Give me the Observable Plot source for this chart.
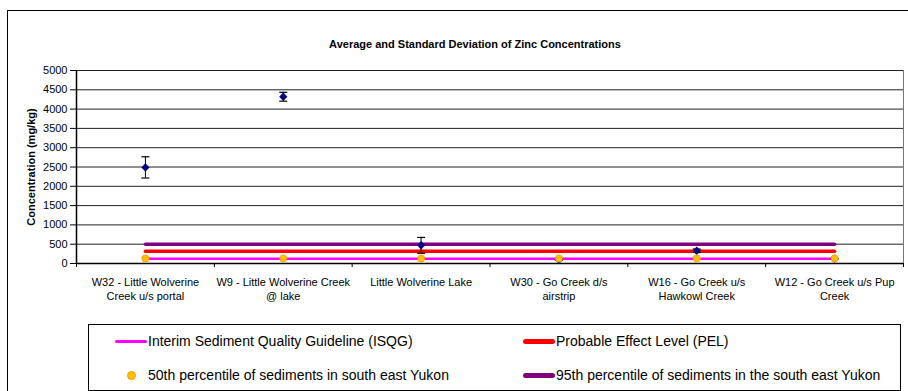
<!DOCTYPE html>
<html>
<head>
<meta charset="utf-8">
<script src="https://cdn.jsdelivr.net/npm/d3@7"></script>
<script src="https://cdn.jsdelivr.net/npm/@observablehq/plot@0.6"></script>
<style>
  html, body { margin: 0; padding: 0; background: #fff; width: 908px; height: 391px; overflow: hidden; font-family: "Liberation Sans", Arial, sans-serif; }
  #outer { position: absolute; left: 7px; top: 10px; width: 920px; height: 420px; border: 1px solid #000; box-sizing: border-box; }
  #title { position: absolute; top: 38px; left: 475px; transform: translateX(-50%); font-weight: bold; font-size: 11px; line-height: 13px; white-space: nowrap; }
  #chart { position: absolute; left: 0; top: 0; }
  #legend { position: absolute; left: 88px; top: 324px; width: 813px; height: 67px; border: 1px solid #000; box-sizing: border-box; }
  .lg { position: absolute; font-size: 14px; line-height: 16px; white-space: nowrap; }
  .sw { position: absolute; }
</style>
</head>
<body>
<div id="outer"></div>
<div id="title"></div>
<div id="chart"></div>
<div id="legend"></div>
<script>
// ---- data ----
const sites = [
  "W32 - Little Wolverine\nCreek u/s portal",
  "W9 - Little Wolverine Creek\n@ lake",
  "Little Wolverine Lake",
  "W30 - Go Creek d/s\nairstrip",
  "W16 - Go Creek u/s\nHawkowl Creek",
  "W12 - Go Creek u/s Pup\nCreek"
];
const meanZn = [2490, 4320, 470, 100, 330, 125];
const sdZn = [275, 115, 205, 15, 45, 10];
const isqg = 123;
const pel = 315;
const p95 = 500;
const p50 = 130;
const yTicks = [0, 500, 1000, 1500, 2000, 2500, 3000, 3500, 4000, 4500, 5000];
const titleText = "Average and Standard Deviation of Zinc Concentrations";
const yLabel = "Concentration (mg/kg)";
const legendLabels = [
  "Interim Sediment Quality Guideline (ISQG)",
  "Probable Effect Level (PEL)",
  "50th percentile of sediments in south east Yukon",
  "95th percentile of sediments in the south east Yukon"
];
const colors = { isqg: "#FF00FF", pel: "#FF0000", p95: "#800080", p50: "#FFC000", p50s: "#FF9900", mean: "#000080" };

// ---- table ----
const rows = sites.map((s, i) => ({ pos: i + 1, site: s, mean: meanZn[i], lo: meanZn[i] - sdZn[i], hi: meanZn[i] + sdZn[i] }));
const boundaries = d3.range(sites.length + 1).map(i => i + 0.5);

const cap = { draw(ctx, size) { const r = Math.sqrt(size / Math.PI); ctx.moveTo(-r, 0); ctx.lineTo(r, 0); } };
const rhombus = { draw(ctx, size) { const r = Math.sqrt(size / Math.PI); const w = r * 0.95; ctx.moveTo(0, -r); ctx.lineTo(w, 0); ctx.lineTo(0, r); ctx.lineTo(-w, 0); ctx.closePath(); } };

document.getElementById("title").textContent = titleText;

const chart = Plot.plot({
  width: 908,
  height: 310,
  marginTop: 70,
  marginBottom: 47,
  marginLeft: 76,
  marginRight: 5,
  style: { fontFamily: "'Liberation Sans', Arial, sans-serif", fontSize: "11px", background: "transparent", color: "#000" },
  x: { type: "linear", domain: [0.5, sites.length + 0.5] },
  y: { domain: [0, 5000] },
  marks: [
    Plot.ruleY(yTicks.slice(1), { stroke: "#222", strokeWidth: 1 }),
    Plot.ruleX([sites.length + 0.5], { stroke: "#777", strokeWidth: 1 }),
    Plot.axisY({ ticks: yTicks, tickSize: 6, tickPadding: 3, tickFormat: d => String(d), label: null, fontSize: 11 }),
    Plot.axisX({ ticks: boundaries, tickSize: 4, tickFormat: () => "", label: null }),
    Plot.axisX({ ticks: rows.map(d => d.pos), tickSize: 0, tickPadding: 13, lineHeight: 1.27, tickFormat: p => sites[p - 1], label: null, fontSize: 11 }),
    Plot.ruleX([0.5], { stroke: "#000", strokeWidth: 1.5 }),
    Plot.ruleY([0], { stroke: "#000", strokeWidth: 1.5 }),
    Plot.text([yLabel], { frameAnchor: "left", textAnchor: "middle", rotate: -90, dx: -45, fontWeight: "bold", fontSize: 11 }),
    Plot.line(rows, { x: "pos", y: () => p95, stroke: colors.p95, strokeWidth: 3.5 }),
    Plot.line(rows, { x: "pos", y: () => pel, stroke: colors.pel, strokeWidth: 3.5 }),
    Plot.line(rows, { x: "pos", y: () => isqg, stroke: colors.isqg, strokeWidth: 2.5 }),
    Plot.ruleX(rows, { x: "pos", y1: "lo", y2: "hi", stroke: "#000", strokeWidth: 1 }),
    Plot.dot(rows, { x: "pos", y: "hi", symbol: cap, r: 4, stroke: "#000", strokeWidth: 1.2 }),
    Plot.dot(rows, { x: "pos", y: "lo", symbol: cap, r: 4, stroke: "#000", strokeWidth: 1.2 }),
    Plot.dot(rows, { x: "pos", y: "mean", symbol: rhombus, r: 4, fill: colors.mean, stroke: colors.mean, strokeWidth: 0.5 }),
    Plot.dot(rows, { x: "pos", y: () => p50, r: 3.6, fill: colors.p50, stroke: colors.p50s, strokeWidth: 0.8 })
  ]
});
document.getElementById("chart").appendChild(chart);

// ---- legend ----
const lg = document.getElementById("legend");
const items = [
  { label: legendLabels[0], kind: "line", color: colors.isqg, w: 3, x: 26, y: 16 },
  { label: legendLabels[1], kind: "line", color: colors.pel, w: 5, x: 434, y: 16 },
  { label: legendLabels[2], kind: "dot", color: colors.p50, x: 26, y: 50 },
  { label: legendLabels[3], kind: "line", color: colors.p95, w: 5, x: 434, y: 50 }
];
for (const it of items) {
  if (it.kind === "line") {
    const s = document.createElement("div");
    s.className = "sw";
    s.style.cssText = `left:${it.x}px;top:${it.y - it.w / 2}px;width:32px;height:${it.w}px;background:${it.color};border-radius:${it.w / 2}px;`;
    lg.appendChild(s);
  } else {
    const s = document.createElement("div");
    s.className = "sw";
    s.style.cssText = `left:${it.x + 12}px;top:${it.y - 4}px;width:7px;height:7px;background:${it.color};border:0.8px solid ${colors.p50s};border-radius:50%;`;
    lg.appendChild(s);
  }
  const t = document.createElement("div");
  t.className = "lg";
  t.style.left = (it.x + 33) + "px";
  t.style.top = (it.y - 8) + "px";
  t.textContent = it.label;
  lg.appendChild(t);
}
</script>
</body>
</html>
